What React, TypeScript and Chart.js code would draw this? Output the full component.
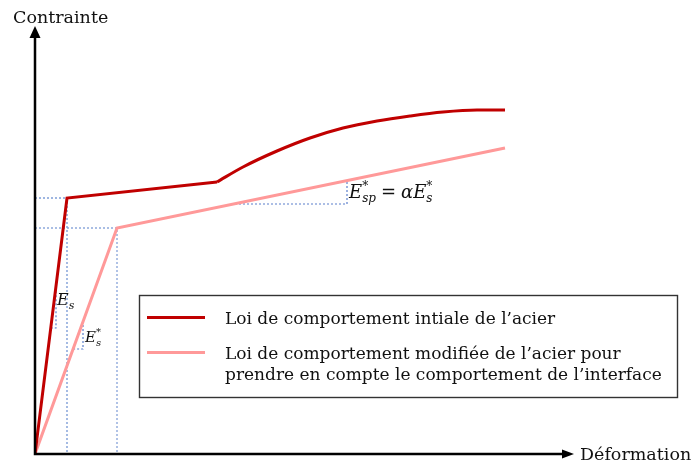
import React, { useEffect, useRef } from "react";
import { Chart, registerables } from "chart.js";

Chart.register(...registerables);

// ---- Data (units: arbitrary strain / stress) ----
const initialElasticX = [0, 32, 182];
const initialElasticY = [0, 256, 272];
const initialHardeningX = [182, 208, 242, 275, 308, 342, 375, 408, 442, 470];
const initialHardeningY = [272, 287, 303, 316, 326, 333, 338, 342, 344, 344];
const modifiedX = [0, 82, 470];
const modifiedY = [0, 226, 306];

// guide lines (dotted)
const guideYieldX = [0, 32, 32];
const guideYieldY = [256, 256, 0];
const guideModX = [0, 82, 82];
const guideModY = [226, 226, 0];
const guideSlopeX = [200, 312, 312];
const guideSlopeY = [250, 250, 273];
const guideEsX = [15.75, 21, 21];
const guideEsY = [126, 126, 168];
const guideEsStarX = [38.1, 48, 48];
const guideEsStarY = [105, 105, 132.3];

const X_MAX = 540;
const Y_MAX = 426;

const legendLabels = [
  ["Loi de comportement intiale de l’acier"],
  ["Loi de comportement modifiée de l’acier pour", "prendre en compte le comportement de l’interface"],
];
const axisTitleY = "Contrainte";
const axisTitleX = "Déformation";

const DARK_RED = "#C00000";
const LIGHT_RED = "#FF9999";
const GUIDE_BLUE = "#5B7FCC";
const SERIF = "'DejaVu Serif', serif";

const pts = (xs: number[], ys: number[]) => xs.map((x, i) => ({ x, y: ys[i] }));

type Run = { t: string; s: number; dy?: number; gap?: number; keep?: boolean; italic?: boolean };

function drawMath(ctx: CanvasRenderingContext2D, x: number, y: number, runs: Run[]) {
  let cx = x;
  let keptW = 0;
  let keptX = 0;
  let pendingKeep = false;
  for (const r of runs) {
    const it = r.italic === false ? "" : "italic ";
    ctx.font = `${it}${r.s}px ${SERIF}`;
    if (!pendingKeep) cx += r.gap || 0;
    const w = ctx.measureText(r.t).width;
    const px = pendingKeep ? keptX : cx;
    ctx.fillText(r.t, px, y + (r.dy || 0));
    if (r.keep) {
      pendingKeep = true;
      keptW = w;
      keptX = cx;
    } else if (pendingKeep) {
      cx = keptX + Math.max(keptW, w);
      pendingKeep = false;
    } else {
      cx += w;
    }
  }
}

const decorPlugin = {
  id: "decor",
  afterDatasetsDraw(chart: any) {
    const ctx: CanvasRenderingContext2D = chart.ctx;
    const xs = chart.scales.x;
    const ys = chart.scales.y;
    const x0 = xs.getPixelForValue(0);
    const y0 = ys.getPixelForValue(0);
    ctx.save();
    // axes with arrows
    ctx.strokeStyle = "#000";
    ctx.fillStyle = "#000";
    ctx.lineWidth = 2.5;
    ctx.beginPath();
    ctx.moveTo(x0, y0 + 1.2);
    ctx.lineTo(x0, 37);
    ctx.moveTo(x0 - 1.2, y0);
    ctx.lineTo(563, y0);
    ctx.stroke();
    ctx.beginPath();
    ctx.moveTo(x0, 26);
    ctx.lineTo(x0 - 5.5, 38);
    ctx.lineTo(x0 + 5.5, 38);
    ctx.closePath();
    ctx.fill();
    ctx.beginPath();
    ctx.moveTo(574, y0);
    ctx.lineTo(562, y0 - 4.5);
    ctx.lineTo(562, y0 + 4.5);
    ctx.closePath();
    ctx.fill();

    // axis titles
    ctx.font = `17.5px ${SERIF}`;
    ctx.textBaseline = "alphabetic";
    ctx.textAlign = "left";
    ctx.fillStyle = "#111";
    ctx.fillText(axisTitleY, 13, 23);
    ctx.fillText(axisTitleX, 580, 460);

    // math annotations
    ctx.fillStyle = "#111";
    drawMath(ctx, xs.getPixelForValue(22), ys.getPixelForValue(149), [
      { t: "E", s: 16 },
      { t: "s", s: 11, dy: 4 },
    ]);
    drawMath(ctx, xs.getPixelForValue(50), ys.getPixelForValue(112), [
      { t: "E", s: 15 },
      { t: "s", s: 10, dy: 4, keep: true },
      { t: "*", s: 10, dy: -7, italic: false },
    ]);
    drawMath(ctx, xs.getPixelForValue(314), ys.getPixelForValue(256), [
      { t: "E", s: 18 },
      { t: "sp", s: 12, dy: 4, keep: true },
      { t: "*", s: 12, dy: -8, italic: false },
      { t: "=", s: 18, gap: 5, italic: false },
      { t: "α", s: 18, gap: 5 },
      { t: "E", s: 18 },
      { t: "s", s: 12, dy: 4, keep: true },
      { t: "*", s: 12, dy: -8, italic: false },
    ]);

    // legend box
    ctx.strokeStyle = "#333";
    ctx.lineWidth = 1.4;
    ctx.strokeRect(139.5, 295.5, 538, 102);
    ctx.lineWidth = 3;
    ctx.strokeStyle = DARK_RED;
    ctx.beginPath();
    ctx.moveTo(147, 317.5);
    ctx.lineTo(205, 317.5);
    ctx.stroke();
    ctx.strokeStyle = LIGHT_RED;
    ctx.beginPath();
    ctx.moveTo(147, 352.5);
    ctx.lineTo(205, 352.5);
    ctx.stroke();
    ctx.fillStyle = "#111";
    ctx.font = `17px ${SERIF}`;
    ctx.fillText(legendLabels[0][0], 225, 324);
    ctx.fillText(legendLabels[1][0], 225, 359);
    ctx.fillText(legendLabels[1][1], 225, 380);
    ctx.restore();
  },
};

export default function App() {
  const ref = useRef<HTMLCanvasElement>(null);
  useEffect(() => {
    document.body.style.margin = "0";
    const guide = (xs: number[], ys: number[], color: string, w = 1.2) => ({
      data: pts(xs, ys),
      borderColor: color,
      borderWidth: w,
      borderDash: [2, 2],
      pointRadius: 0,
      showLine: true,
      tension: 0,
      order: 3,
    });
    const chart = new Chart(ref.current!, {
      type: "scatter",
      data: {
        datasets: [
          guide(guideYieldX, guideYieldY, "#7F9ED8", 1.4),
          guide(guideModX, guideModY, "#8FA9DC", 1.4),
          guide(guideSlopeX, guideSlopeY, GUIDE_BLUE),
          guide(guideEsX, guideEsY, GUIDE_BLUE),
          guide(guideEsStarX, guideEsStarY, GUIDE_BLUE),
          {
            data: pts(modifiedX, modifiedY),
            borderColor: LIGHT_RED,
            borderWidth: 3,
            pointRadius: 0,
            showLine: true,
            tension: 0,
            order: 2,
          },
          {
            data: pts(initialElasticX, initialElasticY),
            borderColor: DARK_RED,
            borderWidth: 3,
            pointRadius: 0,
            showLine: true,
            tension: 0,
            order: 1,
          },
          {
            data: pts(initialHardeningX, initialHardeningY),
            borderColor: DARK_RED,
            borderWidth: 3,
            pointRadius: 0,
            showLine: true,
            cubicInterpolationMode: "monotone",
            order: 1,
          },
        ] as any,
      },
      options: {
        responsive: false,
        animation: false,
        devicePixelRatio: 1,
        layout: { padding: { left: 35, right: 118, top: 28, bottom: 14 } },
        scales: {
          x: { type: "linear", min: 0, max: X_MAX, display: false },
          y: { type: "linear", min: 0, max: Y_MAX, display: false },
        },
        plugins: { legend: { display: false }, tooltip: { enabled: false } },
      },
      plugins: [decorPlugin],
    });
    return () => chart.destroy();
  }, []);
  return (
    <div style={{ width: 693, height: 468, position: "relative", background: "#fff" }}>
      <canvas ref={ref} width={693} height={468} style={{ display: "block", width: 693, height: 468 }} />
    </div>
  );
}
